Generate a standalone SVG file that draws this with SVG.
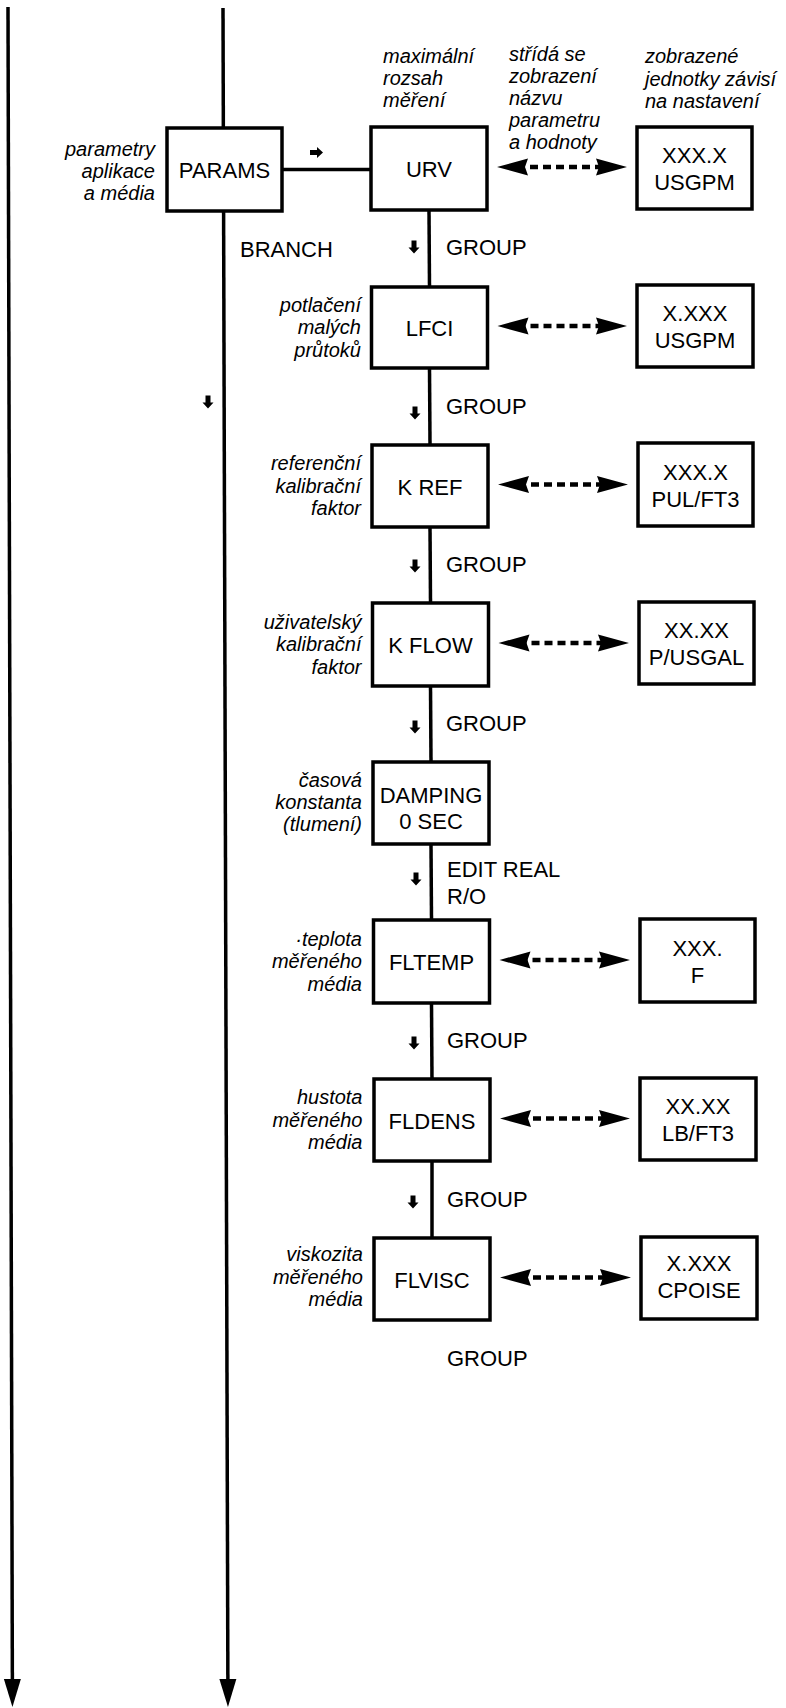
<svg xmlns="http://www.w3.org/2000/svg" width="786" height="1708" viewBox="0 0 786 1708">
<style>
.ln{stroke:#000;stroke-width:3.5;fill:none}
.bx{fill:#fff;stroke:#000;stroke-width:3.5}
.dsh{stroke:#000;stroke-width:4.5;stroke-dasharray:8 5;fill:none;marker-start:url(#dh);marker-end:url(#dh)}
.t{font-family:"Liberation Sans",Arial,sans-serif;font-size:22px;fill:#000;text-anchor:middle}
.g{font-family:"Liberation Sans",Arial,sans-serif;font-size:22px;fill:#000;text-anchor:start}
.i{font-family:"Liberation Sans",Arial,sans-serif;font-size:20px;font-style:italic;fill:#000;text-anchor:end}
.il{font-family:"Liberation Sans",Arial,sans-serif;font-size:20px;font-style:italic;fill:#000;text-anchor:start}
.ba{fill:#000}
</style>
<defs>
<marker id="dh" viewBox="0 0 32 18" markerWidth="32" markerHeight="18" refX="11" refY="9" orient="auto-start-reverse" markerUnits="userSpaceOnUse">
<path d="M0,0.5 L31,9 L0,17.5 L3,9 Z" fill="#000"/>
</marker>
<marker id="vh" viewBox="0 0 28 18" markerWidth="28" markerHeight="18" refX="10" refY="9" orient="auto" markerUnits="userSpaceOnUse">
<path d="M0,0.5 L28,9 L0,17.5 Z" fill="#000"/>
</marker>
<path id="ba" d="M-2.5,-6.5 h5 v7 h3 l-5.5,6 l-5.5,-6 h3 z"/>
</defs>

<g id="connectors">
<line class="ln" x1="8" y1="7" x2="12.4" y2="1689" marker-end="url(#vh)"/>
<line class="ln" x1="223" y1="8" x2="227.9" y2="1689" marker-end="url(#vh)"/>
<line class="ln" x1="282" y1="169.5" x2="371" y2="169.5"/>
<line class="ln" x1="429" y1="210" x2="429.5" y2="287"/>
<line class="ln" x1="429.5" y1="368" x2="430" y2="445"/>
<line class="ln" x1="430" y1="527" x2="430.5" y2="603"/>
<line class="ln" x1="430.5" y1="686" x2="431" y2="762"/>
<line class="ln" x1="431" y1="844" x2="431.5" y2="920"/>
<line class="ln" x1="431.5" y1="1003" x2="432" y2="1079"/>
<line class="ln" x1="432" y1="1161" x2="432" y2="1238"/>
<line class="dsh" x1="517" y1="167" x2="607" y2="167"/>
<line class="dsh" x1="517.5" y1="326" x2="607" y2="326"/>
<line class="dsh" x1="518" y1="484.5" x2="608" y2="484.5"/>
<line class="dsh" x1="518.5" y1="643" x2="609" y2="643"/>
<line class="dsh" x1="519.5" y1="960" x2="610" y2="960"/>
<line class="dsh" x1="520" y1="1118.5" x2="610" y2="1118.5"/>
<line class="dsh" x1="520" y1="1277.5" x2="611" y2="1277.5"/>
<use href="#ba" class="ba" transform="translate(316.5,152.5) rotate(-90)"/>
<use href="#ba" class="ba" x="208" y="402"/>
<use href="#ba" class="ba" x="414" y="247"/>
<use href="#ba" class="ba" x="415" y="413"/>
<use href="#ba" class="ba" x="415" y="566"/>
<use href="#ba" class="ba" x="415" y="727"/>
<use href="#ba" class="ba" x="416" y="879"/>
<use href="#ba" class="ba" x="414" y="1043"/>
<use href="#ba" class="ba" x="413" y="1202"/>
</g>

<g id="labels">
<text class="g" x="240" y="257">BRANCH</text>
<text class="g" x="446" y="255">GROUP</text>
<text class="g" x="446" y="413.5">GROUP</text>
<text class="g" x="446" y="572">GROUP</text>
<text class="g" x="446" y="731">GROUP</text>
<text class="g" x="447" y="877">EDIT REAL</text>
<text class="g" x="447" y="904">R/O</text>
<text class="g" x="447" y="1048">GROUP</text>
<text class="g" x="447" y="1207">GROUP</text>
<text class="g" x="447" y="1366">GROUP</text>
<text class="il" x="383"><tspan x="383" y="63">maximální</tspan><tspan x="383" y="85">rozsah</tspan><tspan x="383" y="107">měření</tspan></text>
<text class="il" x="509"><tspan x="509" y="61">střídá se</tspan><tspan x="509" y="83">zobrazení</tspan><tspan x="509" y="105">názvu</tspan><tspan x="509" y="127">parametru</tspan><tspan x="509" y="149">a hodnoty</tspan></text>
<text class="il" x="645"><tspan x="645" y="63">zobrazené</tspan><tspan x="645" y="85.5">jednotky závisí</tspan><tspan x="645" y="108">na nastavení</tspan></text>
</g>

<g id="params">
<rect class="bx" x="167" y="128" width="115" height="83"/>
<text class="t" x="224.5" y="178">PARAMS</text>
<text class="i"><tspan x="155" y="155.5">parametry</tspan><tspan x="155" y="177.5">aplikace</tspan><tspan x="155" y="199.5">a média</tspan></text>
</g>

<g id="urv">
<rect class="bx" x="371" y="127" width="116" height="83"/>
<text class="t" x="429" y="177">URV</text>
</g>
<g id="urv-value">
<rect class="bx" x="637" y="127" width="115" height="82"/>
<text class="t"><tspan x="694.5" y="163">XXX.X</tspan><tspan x="694.5" y="190">USGPM</tspan></text>
</g>

<g id="lfci">
<rect class="bx" x="371.5" y="287" width="116" height="81"/>
<text class="t" x="429.5" y="336">LFCI</text>
<text class="i"><tspan x="361" y="311.5">potlačení</tspan><tspan x="361" y="334">malých</tspan><tspan x="361" y="356.5">průtoků</tspan></text>
</g>
<g id="lfci-value">
<rect class="bx" x="637" y="285" width="116" height="82"/>
<text class="t"><tspan x="695" y="321">X.XXX</tspan><tspan x="695" y="348">USGPM</tspan></text>
</g>

<g id="kref">
<rect class="bx" x="372" y="445" width="116" height="82"/>
<text class="t" x="430" y="494.5">K REF</text>
<text class="i"><tspan x="361" y="470">referenční</tspan><tspan x="361" y="492.5">kalibrační</tspan><tspan x="361" y="515">faktor</tspan></text>
</g>
<g id="kref-value">
<rect class="bx" x="638" y="443" width="115" height="83"/>
<text class="t"><tspan x="695.5" y="480">XXX.X</tspan><tspan x="695.5" y="507">PUL/FT3</tspan></text>
</g>

<g id="kflow">
<rect class="bx" x="372.5" y="603" width="116" height="83"/>
<text class="t" x="430.5" y="653">K FLOW</text>
<text class="i"><tspan x="361.5" y="628.5">uživatelský</tspan><tspan x="361.5" y="651">kalibrační</tspan><tspan x="361.5" y="673.5">faktor</tspan></text>
</g>
<g id="kflow-value">
<rect class="bx" x="639" y="602" width="115" height="82"/>
<text class="t"><tspan x="696.5" y="638">XX.XX</tspan><tspan x="696.5" y="665">P/USGAL</tspan></text>
</g>

<g id="damping">
<rect class="bx" x="373" y="762" width="116" height="82"/>
<text class="t"><tspan x="431" y="803">DAMPING</tspan><tspan x="431" y="829">0 SEC</tspan></text>
<text class="i"><tspan x="362" y="787">časová</tspan><tspan x="362" y="809">konstanta</tspan><tspan x="362" y="831">(tlumení)</tspan></text>
</g>

<g id="fltemp">
<rect class="bx" x="373.5" y="920" width="116" height="83"/>
<text class="t" x="431.5" y="970">FLTEMP</text>
<text class="i"><tspan x="362" y="945.5">·teplota</tspan><tspan x="362" y="968">měřeného</tspan><tspan x="362" y="990.5">média</tspan></text>
</g>
<g id="fltemp-value">
<rect class="bx" x="640" y="919" width="115" height="83"/>
<text class="t"><tspan x="697.5" y="955.5">XXX.</tspan><tspan x="697.5" y="982.5">F</tspan></text>
</g>

<g id="fldens">
<rect class="bx" x="374" y="1079" width="116" height="82"/>
<text class="t" x="432" y="1128.5">FLDENS</text>
<text class="i"><tspan x="362.5" y="1104">hustota</tspan><tspan x="362.5" y="1126.5">měřeného</tspan><tspan x="362.5" y="1149">média</tspan></text>
</g>
<g id="fldens-value">
<rect class="bx" x="640" y="1078" width="116" height="82"/>
<text class="t"><tspan x="698" y="1114">XX.XX</tspan><tspan x="698" y="1141">LB/FT3</tspan></text>
</g>

<g id="flvisc">
<rect class="bx" x="374" y="1238" width="116" height="82"/>
<text class="t" x="432" y="1287.5">FLVISC</text>
<text class="i"><tspan x="363" y="1261">viskozita</tspan><tspan x="363" y="1284">měřeného</tspan><tspan x="363" y="1306">média</tspan></text>
</g>
<g id="flvisc-value">
<rect class="bx" x="641" y="1237" width="116" height="82"/>
<text class="t"><tspan x="699" y="1271">X.XXX</tspan><tspan x="699" y="1298">CPOISE</tspan></text>
</g>
</svg>
